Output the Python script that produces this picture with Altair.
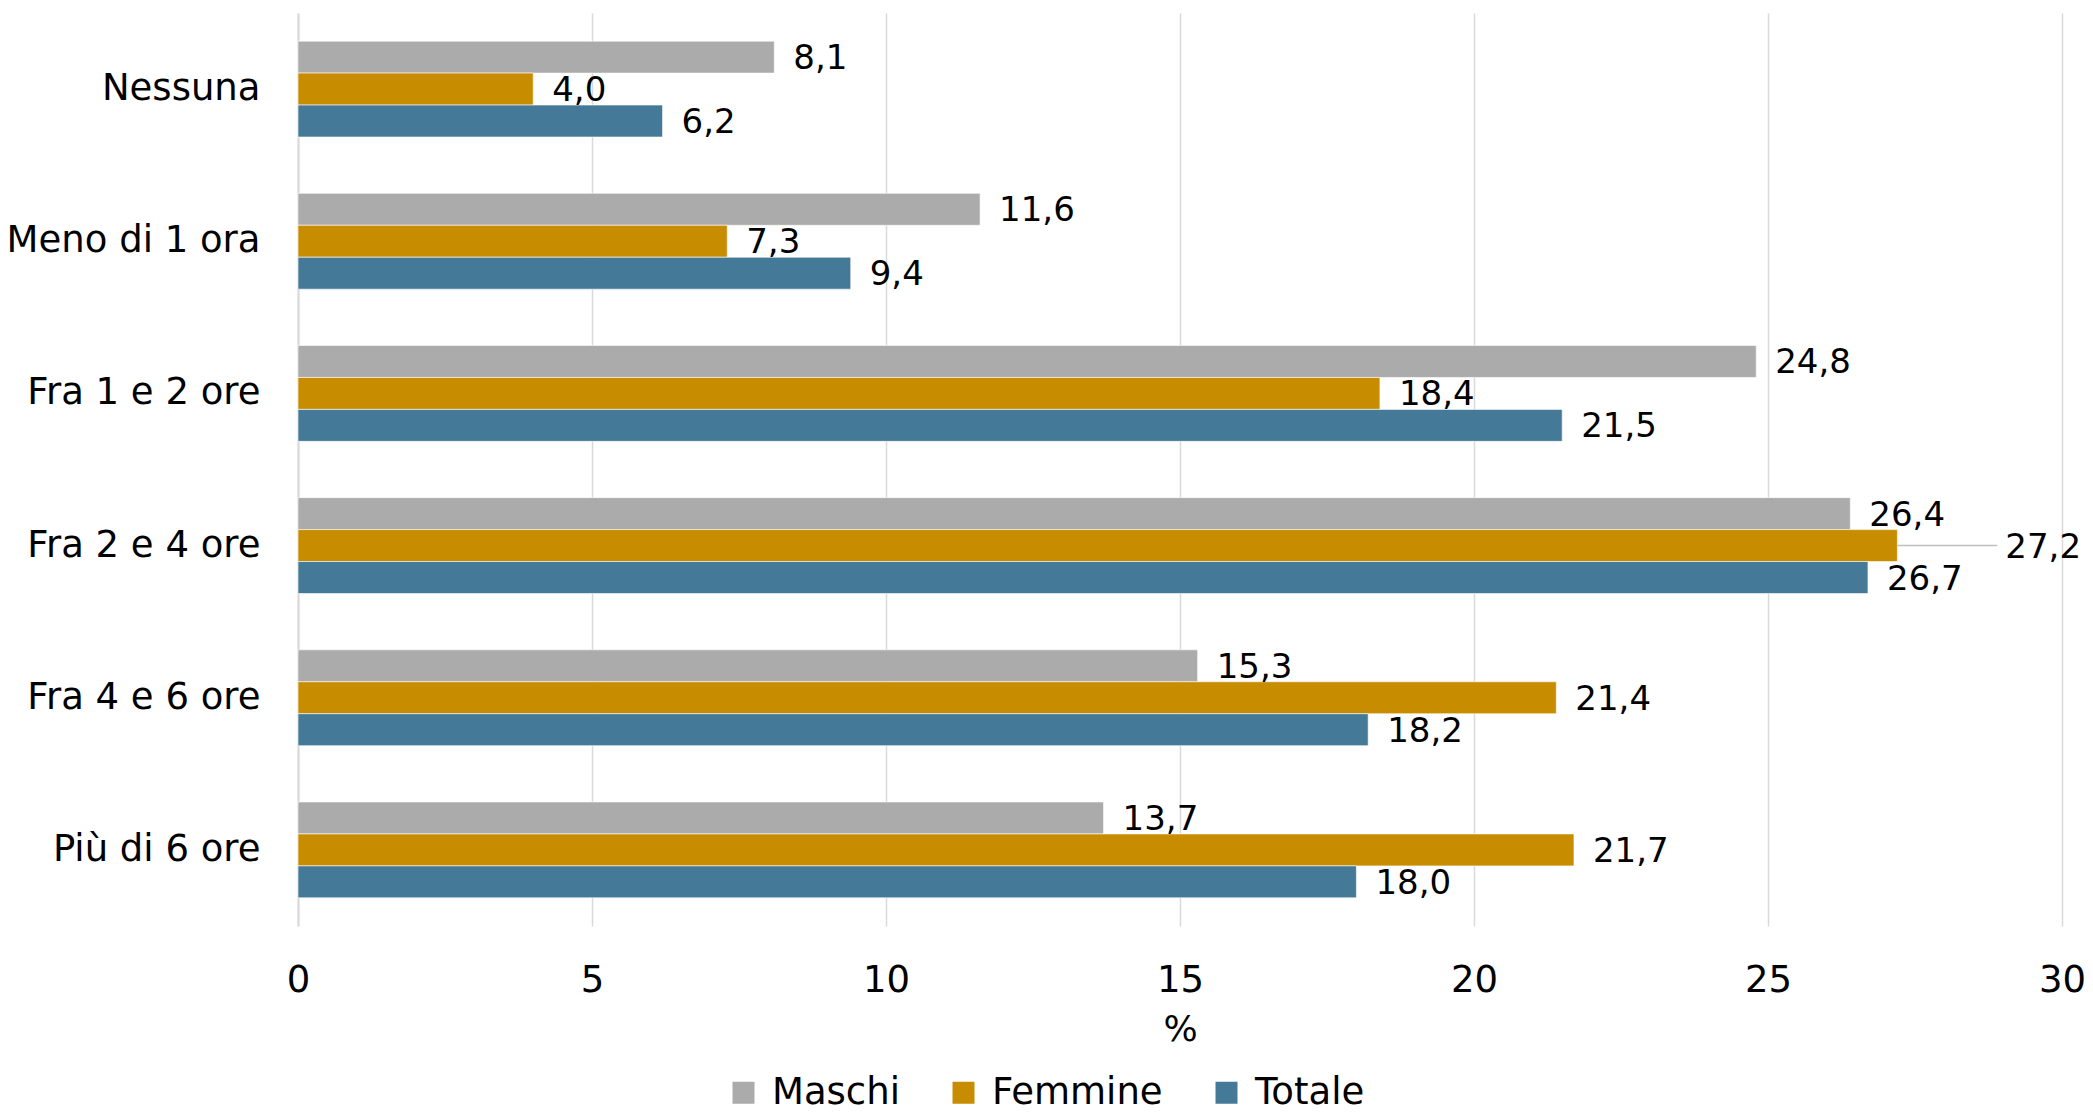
import altair as alt
import pandas as pd

categories = ["Nessuna", "Meno di 1 ora", "Fra 1 e 2 ore", "Fra 2 e 4 ore", "Fra 4 e 6 ore", "Più di 6 ore"]
series = ["Maschi", "Femmine", "Totale"]
maschi = [8.1, 11.6, 24.8, 26.4, 15.3, 13.7]
femmine = [4.0, 7.3, 18.4, 27.2, 21.4, 21.7]
totale = [6.2, 9.4, 21.5, 26.7, 18.2, 18.0]
colors = ["#AAABAA", "#C88C00", "#447A97"]
x_ticks = [0, 5, 10, 15, 20, 25, 30]

# one label is pulled out to the right with a leader line
callout_category = "Fra 2 e 4 ore"
callout_series = "Femmine"
callout_end = 28.9

rows = []
for s, vals in zip(series, [maschi, femmine, totale]):
    for c, v in zip(categories, vals):
        is_callout = (c == callout_category and s == callout_series)
        rows.append({
            "cat": c,
            "serie": s,
            "value": v,
            "label": f"{v:.1f}".replace(".", ","),
            "callout": is_callout,
            "label_x": callout_end if is_callout else v,
        })
df = pd.DataFrame(rows)

FONT = "DejaVu Sans"
FS = 34

y_enc = alt.Y("cat:N", sort=categories,
              scale=alt.Scale(paddingInner=0.37, paddingOuter=0.185),
              axis=alt.Axis(title=None, labelFontSize=37, labelColor="#000000",
                            labelPadding=38, labelLimit=0, ticks=False, domain=True,
                            domainColor="#D9D9D9", domainWidth=2, grid=False))
yoff = alt.YOffset("serie:N", sort=series, scale=alt.Scale(paddingInner=0, paddingOuter=0))

base = alt.Chart(df)

bars = base.mark_bar(stroke="white", strokeWidth=0.6).encode(
    x=alt.X("value:Q", scale=alt.Scale(domain=[0, 30], nice=False),
            axis=alt.Axis(values=x_ticks, format="d", title="%", titleFontSize=36,
                          titleFontWeight="normal",
                          titleColor="#000000", titlePadding=14,
                          labelFontSize=37, labelColor="#000000", labelPadding=36,
                          labelFlush=False,
                          ticks=False, domain=False, grid=True,
                          gridColor="#D9D9D9", gridWidth=1.5)),
    y=y_enc,
    yOffset=yoff,
    color=alt.Color("serie:N", sort=series,
                    scale=alt.Scale(domain=series, range=colors),
                    legend=alt.Legend(title=None, orient="none", legendX=427, legendY=1061,
                                      direction="horizontal", symbolType="square",
                                      symbolSize=484, symbolStrokeWidth=0,
                                      labelFontSize=37, labelColor="#000000", labelLimit=0,
                                      labelOffset=10, columnPadding=45)),
)

labels = base.transform_filter("!datum.callout").mark_text(
    align="left", baseline="middle", dx=19, dy=2, fontSize=FS, font=FONT, color="#000000"
).encode(x="value:Q", y=alt.Y("cat:N", sort=categories), yOffset=yoff, text="label:N")

leader = base.transform_filter("datum.callout").mark_rule(
    color="#BFBFBF", strokeWidth=1.5
).encode(x="value:Q", x2="label_x:Q", y=alt.Y("cat:N", sort=categories), yOffset=yoff)

callout_label = base.transform_filter("datum.callout").mark_text(
    align="left", baseline="middle", dx=8, dy=2, fontSize=FS, font=FONT, color="#000000"
).encode(x="label_x:Q", y=alt.Y("cat:N", sort=categories), yOffset=yoff, text="label:N")

chart = alt.layer(bars, leader, labels, callout_label).properties(
    width=1764, height=913,
    autosize=alt.AutoSizeParams(type="none"),
    padding={"left": 290, "top": 5, "right": 23, "bottom": 186},
).configure(font=FONT).configure_view(stroke=None)

chart.save("out.html", embed_options={"renderer": "svg", "actions": False})
